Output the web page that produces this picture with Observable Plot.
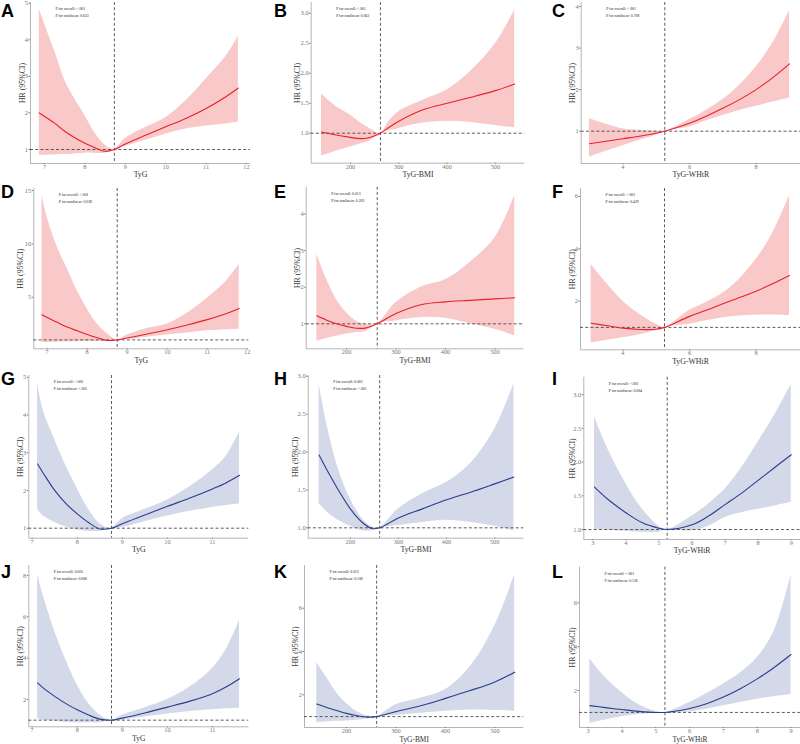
<!DOCTYPE html>
<html><head><meta charset="utf-8">
<script src="https://cdn.jsdelivr.net/npm/d3@7"></script>
<script src="https://cdn.jsdelivr.net/npm/@observablehq/plot@0.6"></script>
<style>
body{margin:0;background:#fff;}
#wrap{position:relative;width:800px;height:744px;overflow:hidden;background:#fff;}
.cell{position:absolute;}
#letters{position:absolute;left:0;top:0;pointer-events:none;}
</style></head><body><div id="wrap"></div>
<script>
// ---------- data ----------
const xA = [6.87, 7.25, 7.5, 7.75, 8, 8.25, 8.5, 8.73, 9, 9.5, 10, 10.5, 11, 11.5, 11.8];
const hrA = [2.0, 1.72, 1.5, 1.32, 1.17, 1.05, 0.95, 1.0, 1.15, 1.39, 1.62, 1.85, 2.12, 2.45, 2.68];
const loA = [0.84, 0.85, 0.86, 0.88, 0.9, 0.9, 0.9, 1.0, 1.08, 1.25, 1.42, 1.56, 1.64, 1.7, 1.75];
const hiA = [4.83, 3.7, 2.9, 2.38, 1.93, 1.45, 1.12, 1.0, 1.3, 1.6, 1.87, 2.33, 2.93, 3.56, 4.1];

const xB = [140, 170, 200, 220, 240, 262, 280, 300, 350, 400, 450, 500, 540];
const hrB = [1.02, 0.97, 0.93, 0.91, 0.93, 1.0, 1.1, 1.2, 1.39, 1.5, 1.6, 1.71, 1.82];
const loB = [0.62, 0.7, 0.77, 0.82, 0.87, 1.0, 1.04, 1.08, 1.17, 1.2, 1.18, 1.13, 1.09];
const hiB = [1.65, 1.45, 1.3, 1.18, 1.08, 1.0, 1.2, 1.36, 1.55, 1.72, 2.04, 2.49, 3.05];

const xC = [3.0, 3.5, 4, 4.5, 5, 5.26, 6, 6.5, 7, 7.5, 8, 8.5, 9];
const hrC = [0.7, 0.76, 0.82, 0.88, 0.95, 1.0, 1.19, 1.36, 1.55, 1.76, 2.0, 2.29, 2.62];
const loC = [0.38, 0.52, 0.65, 0.78, 0.9, 1.0, 1.1, 1.25, 1.38, 1.5, 1.6, 1.7, 1.8];
const hiC = [1.3, 1.17, 1.06, 1.02, 1.0, 1.0, 1.28, 1.5, 1.76, 2.1, 2.55, 3.12, 3.9];

const xD = [6.87, 7.0, 7.25, 7.5, 7.75, 8, 8.25, 8.5, 8.75, 9, 9.5, 10, 10.5, 11, 11.5, 11.8];
const hrD = [3.35, 3.1, 2.65, 2.2, 1.85, 1.5, 1.2, 0.95, 1.0, 1.18, 1.55, 1.95, 2.4, 2.9, 3.5, 3.95];
const loD = [0.75, 0.76, 0.78, 0.8, 0.82, 0.84, 0.86, 0.88, 1.0, 1.05, 1.25, 1.45, 1.65, 1.85, 1.95, 2.0];
const hiD = [14.5, 12.5, 9.7, 7.7, 5.6, 3.9, 2.5, 1.6, 1.0, 1.45, 2.07, 2.5, 3.5, 4.9, 6.6, 8.1];

const xE = [140, 160, 180, 200, 220, 240, 262, 300, 350, 400, 450, 500, 540];
const hrE = [1.22, 1.1, 1.0, 0.93, 0.88, 0.89, 1.0, 1.28, 1.52, 1.6, 1.64, 1.68, 1.71];
const loE = [0.52, 0.6, 0.66, 0.72, 0.76, 0.8, 1.0, 1.08, 1.17, 1.15, 1.0, 0.85, 0.67];
const hiE = [2.9, 2.2, 1.65, 1.3, 1.07, 0.98, 1.0, 1.58, 2.0, 2.2, 2.68, 3.35, 4.5];

const xF = [3.05, 3.5, 4, 4.5, 5, 5.25, 6, 6.5, 7, 7.5, 8, 8.5, 9];
const hrF = [1.16, 1.07, 0.97, 0.92, 0.93, 1.0, 1.42, 1.65, 1.9, 2.14, 2.38, 2.67, 2.98];
const loF = [0.41, 0.5, 0.6, 0.72, 0.87, 1.0, 1.12, 1.25, 1.37, 1.43, 1.47, 1.47, 1.45];
const hiF = [3.4, 2.7, 2.0, 1.5, 1.12, 1.0, 1.65, 1.95, 2.3, 2.85, 3.6, 4.6, 6.03];

const xG = [7.12, 7.25, 7.5, 7.75, 8, 8.25, 8.5, 8.76, 9, 9.5, 10, 10.5, 11, 11.3, 11.6];
const hrG = [2.7, 2.45, 2.0, 1.65, 1.38, 1.15, 0.98, 1.0, 1.12, 1.35, 1.58, 1.8, 2.04, 2.2, 2.4];
const loG = [1.5, 1.32, 1.15, 1.03, 0.95, 0.92, 0.92, 1.0, 1.02, 1.17, 1.32, 1.45, 1.55, 1.6, 1.65];
const hiG = [4.83, 4.1, 3.35, 2.65, 2.05, 1.5, 1.12, 1.0, 1.25, 1.5, 1.75, 2.1, 2.55, 2.9, 3.55];

const xH = [135, 150, 175, 200, 225, 245, 261, 300, 350, 400, 450, 500, 540];
const hrH = [1.96, 1.78, 1.5, 1.25, 1.07, 0.99, 1.0, 1.13, 1.25, 1.37, 1.47, 1.58, 1.67];
const loH = [1.32, 1.22, 1.1, 1.02, 0.96, 0.96, 1.0, 1.03, 1.07, 1.1, 1.07, 1.02, 0.96];
const hiH = [2.9, 2.4, 1.78, 1.38, 1.12, 1.01, 1.0, 1.25, 1.45, 1.6, 1.85, 2.3, 2.9];

const xI = [3.05, 3.5, 4, 4.5, 5, 5.25, 6, 6.5, 7, 7.5, 8, 8.5, 9];
const hrI = [1.63, 1.43, 1.25, 1.1, 1.02, 1.0, 1.07, 1.2, 1.37, 1.54, 1.73, 1.92, 2.11];
const loI = [1.0, 0.99, 0.97, 0.96, 0.96, 1.0, 0.98, 1.05, 1.18, 1.25, 1.3, 1.35, 1.4];
const hiI = [2.67, 2.15, 1.68, 1.3, 1.05, 1.0, 1.2, 1.38, 1.6, 1.92, 2.3, 2.7, 3.15];

const xJ = [7.12, 7.25, 7.5, 7.75, 8, 8.25, 8.5, 8.76, 9, 9.5, 10, 10.5, 11, 11.3, 11.6];
const hrJ = [2.8, 2.55, 2.15, 1.8, 1.5, 1.25, 1.05, 1.0, 1.1, 1.35, 1.63, 1.92, 2.28, 2.6, 3.0];
const loJ = [1.07, 1.0, 0.95, 0.9, 0.87, 0.87, 0.88, 1.0, 1.0, 1.15, 1.3, 1.42, 1.5, 1.55, 1.58];
const hiJ = [8.05, 7.0, 5.3, 3.9, 2.7, 1.8, 1.25, 1.0, 1.25, 1.6, 2.0, 2.6, 3.5, 4.4, 5.82];

const xK = [140, 160, 180, 200, 220, 245, 261, 300, 350, 400, 450, 500, 540];
const hrK = [1.58, 1.42, 1.28, 1.15, 1.05, 0.97, 1.0, 1.23, 1.5, 1.84, 2.2, 2.6, 3.05];
const loK = [0.72, 0.75, 0.78, 0.8, 0.83, 0.9, 1.0, 1.05, 1.15, 1.25, 1.3, 1.28, 1.25];
const hiK = [3.48, 2.8, 2.1, 1.6, 1.25, 1.02, 1.0, 1.55, 1.85, 2.25, 3.3, 5.2, 7.55];

const xL = [3.05, 3.5, 4, 4.5, 5, 5.27, 6, 6.5, 7, 7.5, 8, 8.5, 9];
const hrL = [1.31, 1.22, 1.13, 1.05, 1.0, 1.0, 1.18, 1.4, 1.7, 2.08, 2.53, 3.05, 3.64];
const loL = [0.51, 0.66, 0.8, 0.9, 0.97, 1.0, 1.02, 1.15, 1.3, 1.45, 1.6, 1.72, 1.82];
const hiL = [3.45, 2.6, 1.9, 1.35, 1.05, 1.0, 1.45, 1.85, 2.3, 2.8, 3.5, 4.7, 7.25];

// tick values
const ticksTyG = [7, 8, 9, 10, 11, 12];
const ticksTyG2 = [7, 8, 9, 10, 11];
const ticksBMI = [200, 300, 400, 500];
const ticksWHtRa = [4, 6, 8];
const ticksWHtRb = [3, 4, 5, 6, 7, 8, 9];
const yTicksA = [1, 2, 3, 4, 5];
const yTicksB = [1.0, 1.5, 2.0, 2.5, 3.0];
const yTicksC = [1, 2, 3, 4];
const yTicksD = [5, 10, 15];
const yTicksE = [1, 2, 3, 4];
const yTicksF = [2, 4, 6];
const yTicksG = [1, 2, 3, 4, 5];
const yTicksH = [1.0, 1.5, 2.0, 2.5, 3.0];
const yTicksI = [1.0, 1.5, 2.0, 2.5, 3.0];
const yTicksJ = [2, 4, 6, 8];
const yTicksK = [2, 4, 6];
const yTicksL = [2, 4, 6];

const letters = ["A","B","C","D","E","F","G","H","I","J","K","L"];
const xLabels = ["TyG", "TyG-BMI", "TyG-WHtR"];
const refX = [8.73, 262, 5.26, 8.75, 262, 5.25, 8.76, 261, 5.25, 8.76, 261, 5.27];
const pOverall = ["<.001","<.001","<.001","<.001","0.013","<.001","<.001","0.002","<.001","0.001","0.012","<.001"];
const pNonlin = ["0.023","0.062","0.708","0.038","0.203","0.429","<.001","<.001","0.004","0.006","0.108","0.126"];

// ---------- layout (pixels) ----------
const cellL = [0, 265, 530];
const cellT = [0, 180, 365, 550];
const cellW = [265, 265, 270];
const cellH = [180, 185, 185, 194];
const letterX = [1, 274, 552];
const letterY = [17, 198, 385, 578];

const panels = [
  {x:xA,hr:hrA,lo:loA,hi:hiA,xd:[6.653,12.1],yd:[0.617,5.02],xt:ticksTyG,yt:yTicksA,fmt:d3.format("d"),m:[2,15,17,30],yo:8,xo:10.5},
  {x:xB,hr:hrB,lo:loB,hi:hiB,xd:[118.6,561],yd:[0.5,3.18],xt:ticksBMI,yt:yTicksB,fmt:d3.format(".1f"),m:[2,5.7,17.3,45.7],yo:14,xo:10.8},
  {x:xC,hr:hrC,lo:loC,hi:hiC,xd:[2.753,9.33],yd:[0.223,4.096],xt:ticksWHtRa,yt:yTicksC,fmt:d3.format("d"),m:[2,0,17,50.7],yo:9,xo:11},
  {x:xD,hr:hrD,lo:loD,hi:hiD,xd:[6.665,12.04],yd:[0.166,15.19],xt:ticksTyG,yt:yTicksD,fmt:d3.format("d"),m:[8,16.7,16.7,33.3],yo:13,xo:11.5},
  {x:xE,hr:hrE,lo:loE,hi:hiE,xd:[118.4,558.4],yd:[0.318,4.73],xt:ticksBMI,yt:yTicksE,fmt:d3.format("d"),m:[6.7,6.7,16.7,40.7],yo:9,xo:11.5},
  {x:xF,hr:hrF,lo:loF,hi:hiF,xd:[2.73,9.33],yd:[0.144,6.3],xt:ticksWHtRa,yt:yTicksF,fmt:d3.format("d"),m:[8,0,15.7,50],yo:8.3,xo:11.5},
  {x:xG,hr:hrG,lo:loG,hi:hiG,xd:[6.925,11.806],yd:[0.735,5.045],xt:ticksTyG2,yt:yTicksG,fmt:d3.format("d"),m:[10,16.7,12.3,28.3],yo:8.3,xo:10.8},
  {x:xH,hr:hrH,lo:loH,hi:hiH,xd:[112.4,560.6],yd:[0.863,3.01],xt:ticksBMI,yt:yTicksH,fmt:d3.format(".1f"),m:[10,6.7,12.3,42.7],yo:12.7,xo:10.8},
  {x:xI,hr:hrI,lo:loI,hi:hiI,xd:[2.728,9.28],yd:[0.852,3.26],xt:ticksWHtRb,yt:yTicksI,fmt:d3.format(".1f"),m:[11.7,0,11,53.3],yo:11.6,xo:10.8},
  {x:xJ,hr:hrJ,lo:loJ,hi:hiJ,xd:[6.925,11.806],yd:[0.679,8.48],xt:ticksTyG2,yt:yTicksJ,fmt:d3.format("d"),m:[15,16.7,17.7,28.3],yo:8.3,xo:12.3},
  {x:xK,hr:hrK,lo:loK,hi:hiK,xd:[115.2,558.4],yd:[0.497,7.97],xt:ticksBMI,yt:yTicksK,fmt:d3.format("d"),m:[15,6.7,17,39],yo:9,xo:12.3},
  {x:xL,hr:hrL,lo:loL,hi:hiL,xd:[2.743,9.28],yd:[0.313,7.62],xt:ticksWHtRb,yt:yTicksL,fmt:d3.format("d"),m:[16.7,0,17,49],yo:7.3,xo:12.3}
];

const wrap = document.getElementById("wrap");
const FONT = "'Liberation Serif','Times New Roman',serif";

panels.forEach((p, i) => {
  const col = i % 3, row = Math.floor(i / 3);
  const red = row < 2;
  const band = red ? "#f9c8c8" : "#d3d9e8";
  const line = red ? "#e8202a" : "#2a3d8c";
  const rows = p.x.map((v, j) => ({x: v, hr: p.hr[j], lo: p.lo[j], hi: p.hi[j]}));
  const [mt, mr, mb, ml] = p.m;
  const titleSize = row === 3 ? 7.4 : 7.8;
  const chart = Plot.plot({
    width: cellW[col], height: cellH[row],
    marginTop: mt, marginRight: mr, marginBottom: mb, marginLeft: ml,
    x: {domain: p.xd},
    y: {domain: p.yd},
    style: {fontFamily: FONT, background: "transparent", overflow: "visible"},
    marks: [
      Plot.areaY(rows, {x: "x", y1: "lo", y2: "hi", fill: band, curve: "catmull-rom"}),
      Plot.ruleY([p.yd[0]], {stroke: "#b5b5b5", strokeWidth: 1}),
      Plot.ruleX([p.xd[0]], {stroke: "#b5b5b5", strokeWidth: 1}),
      Plot.ruleY([1], {stroke: "#333", strokeWidth: 0.8, strokeDasharray: "3,2.2"}),
      Plot.ruleX([refX[i]], {stroke: "#333", strokeWidth: 0.8, strokeDasharray: "3,2.2"}),
      Plot.lineY(rows, {x: "x", y: "hr", stroke: line, strokeWidth: 1.1, curve: "catmull-rom"}),
      Plot.axisX({ticks: p.xt, tickSize: 1, tickPadding: 0, fontSize: 6.3, color: "#777", label: null, tickFormat: d3.format("d")}),
      Plot.axisY({ticks: p.yt, tickSize: 1.5, tickPadding: 1, fontSize: 6.5, color: "#777", label: null, tickFormat: p.fmt}),
      Plot.text([xLabels[col]], {frameAnchor: "bottom", lineAnchor: "middle", textAnchor: "middle", dy: p.xo, fontSize: titleSize, fill: "#333"}),
      Plot.text(["HR (95%CI)"], {frameAnchor: "left", lineAnchor: "middle", textAnchor: "middle", rotate: -90, dx: -p.yo, fontSize: 7.8, fill: "#333"}),
      Plot.text([`P for overall: ${pOverall[i]}\nP for nonlinear: ${pNonlin[i]}`], {frameAnchor: "top-left", dx: 25, dy: 3, lineAnchor: "top", textAnchor: "start", fontSize: 3.8, lineHeight: 1.8, fill: "#222"})
    ]
  });
  const div = document.createElement("div");
  div.className = "cell";
  div.style.left = cellL[col] + "px";
  div.style.top = cellT[row] + "px";
  div.appendChild(chart);
  wrap.appendChild(div);
});

// panel letters
const svg = d3.select(wrap).append("svg").attr("id", "letters").attr("width", 800).attr("height", 744);
svg.selectAll("text").data(letters).join("text")
  .attr("x", (d, i) => letterX[i % 3])
  .attr("y", (d, i) => letterY[Math.floor(i / 3)])
  .attr("font-family", "'Liberation Sans',Arial,sans-serif")
  .attr("font-weight", "bold")
  .attr("font-size", 18)
  .text(d => d);
</script></body></html>
